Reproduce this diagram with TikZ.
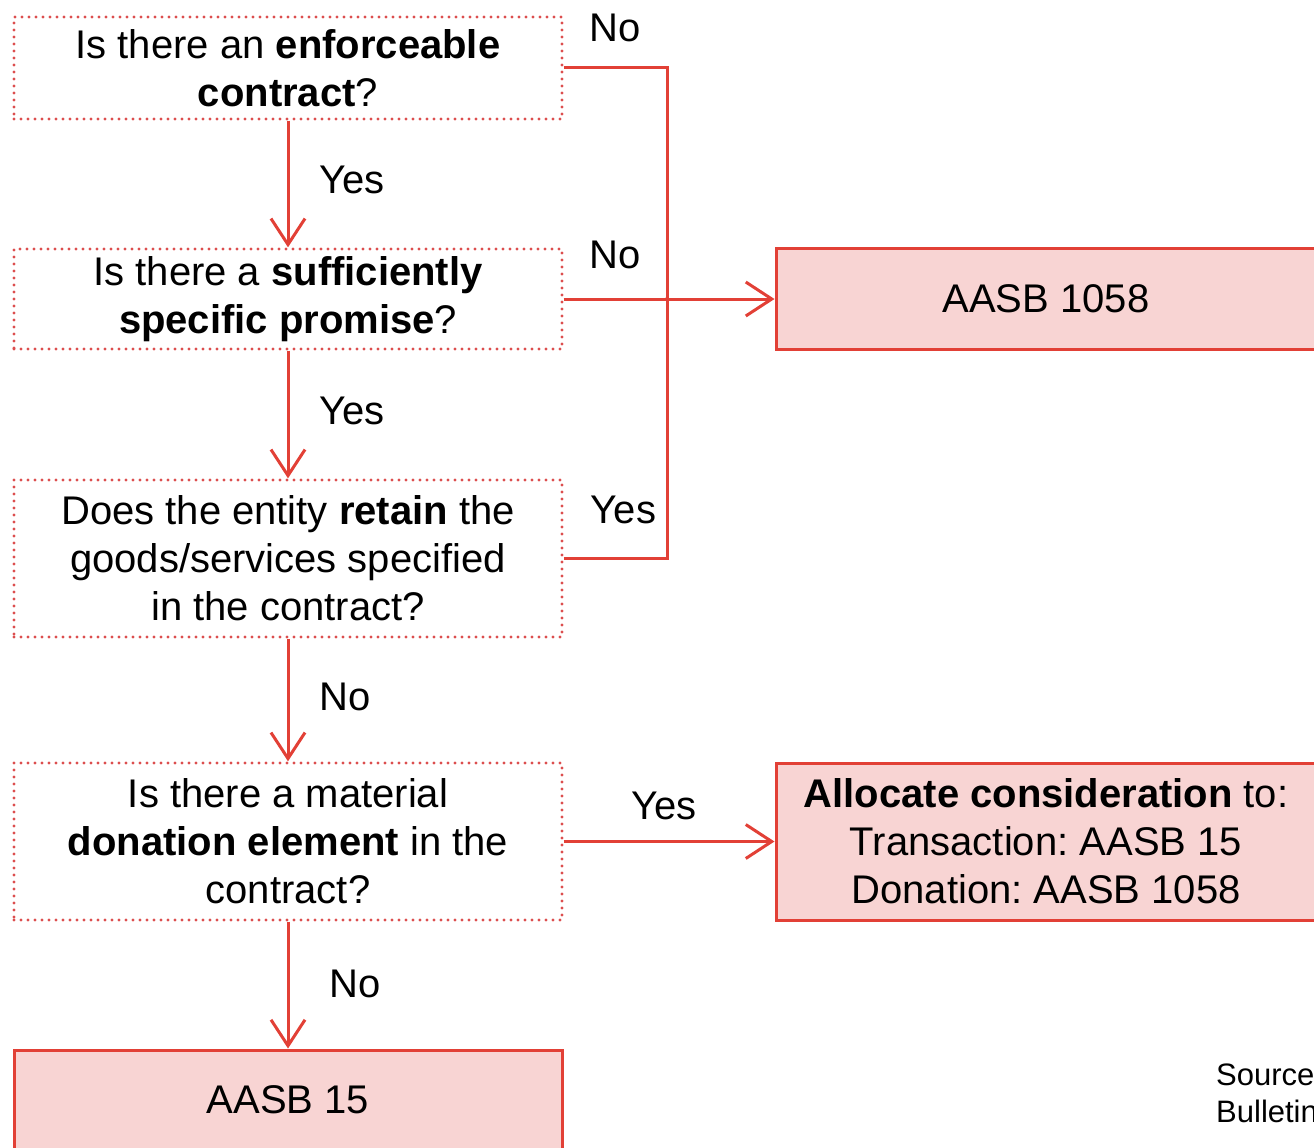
\documentclass[tikz,border=0pt]{standalone}
\usepackage{fontspec}
\setmainfont{Liberation Sans}
\usetikzlibrary{arrows.meta}

\definecolor{flowred}{RGB}{226,64,54}
\definecolor{dotred}{RGB}{220,78,78}
\definecolor{outfill}{RGB}{248,212,211}

\newcommand{\boxfont}{\fontsize{40}{48}\selectfont}
\newcommand{\notefont}{\fontsize{31}{37}\selectfont}

\begin{document}
\frenchspacing
\begin{tikzpicture}[x=1pt,y=-1pt,
  question/.style={draw=dotred, line width=3.4pt, dash pattern=on 0pt off 7pt,
    line cap=round, minimum width=548pt, inner sep=0pt, align=center,
    font=\boxfont},
  outcome/.style={draw=flowred, fill=outfill, line width=3pt,
    minimum width=540pt, inner sep=0pt, align=center, font=\boxfont},
  flowline/.style={draw=flowred, line width=3pt},
  flow/.style={flowline, -{Straight Barb[length=26pt,width=34pt]}},
  lbl/.style={inner sep=0pt, font=\boxfont},
  note/.style={inner sep=0pt, font=\notefont, anchor=base west}]

\useasboundingbox (0,0) rectangle (1314,1148);
\clip (0,0) rectangle (1314,1148);

% decision boxes
\node[question, minimum height=102pt] (q1) at (288,68)
  {Is there an \textbf{enforceable}\\\textbf{contract}?};
\node[question, minimum height=100pt] (q2) at (288,299)
  {Is there a \textbf{sufficiently}\\\textbf{specific promise}?};
\node[question, minimum height=157pt] (q3) at (288,558.5)
  {Does the entity \textbf{retain} the\\goods/services specified\\in the contract?};
\node[question, minimum height=157pt] (q4) at (288,841.5)
  {Is there a material\\\textbf{donation element} in the\\contract?};

% outcome boxes
\node[outcome, minimum width=548pt, minimum height=100pt] (a15) at (288,1100) {AASB 15};
\node[outcome, minimum height=101pt] (a1058) at (1046,299) {AASB 1058};
\node[outcome, minimum height=157pt] (alloc) at (1046,841.5)
  {\textbf{Allocate consideration} to:\\Transaction: AASB 15\\Donation: AASB 1058};

% vertical rail collecting the routes to AASB 1058
\coordinate (rail) at (667,0);

% main column
\draw[flow] (q1.south) -- node[lbl, anchor=west, xshift=30pt, yshift=4pt] {Yes} (q2.north);
\draw[flow] (q2.south) -- node[lbl, anchor=west, xshift=30pt, yshift=4pt] {Yes} (q3.north);
\draw[flow] (q3.south) -- node[lbl, anchor=west, xshift=30pt, yshift=3pt] {No} (q4.north);
\draw[flow] (q4.south) -- node[lbl, anchor=west, xshift=40pt, yshift=1pt] {No} (a15.north);

% routes to AASB 1058
\draw[flowline] (q1.east) -- node[lbl, above=25pt] {No} (q1.east -| rail)
  -- (q3.east -| rail) -- node[lbl, above=33pt, xshift=8pt] {Yes} (q3.east);
\draw[flow] (q2.east) -- node[lbl, above=29pt] {No} (q2.east -| rail)
  -- (q2.east -| a1058.west);
\fill[flowred] (q2.east -| rail) circle (2pt);

% donation element route
\draw[flow] (q4.east) -- node[lbl, above=20pt, xshift=-5pt] {Yes} (q4.east -| alloc.west);

% source note
\node[note] (src) at (1216,1085) {Source};
\node[note] (bul) at (1216,1122) {Bulletin};
\end{tikzpicture}
\end{document}
